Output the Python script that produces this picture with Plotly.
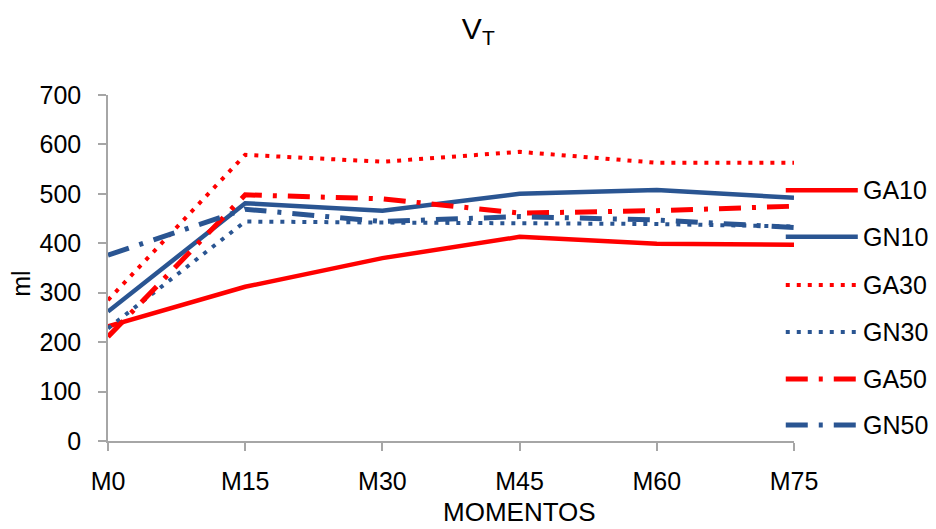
import plotly.graph_objects as go

# Tidal volume (ml) per group across measurement moments
moments = ["M0", "M15", "M30", "M45", "M60", "M75"]
ga10 = [232, 312, 370, 413, 399, 397]
gn10 = [262, 481, 466, 500, 508, 492]
ga30 = [285, 579, 565, 585, 563, 563]
gn30 = [228, 444, 442, 440, 439, 434]
ga50 = [211, 498, 490, 461, 466, 475]
gn50 = [376, 469, 444, 454, 447, 432]

series_names = ["GA10", "GN10", "GA30", "GN30", "GA50", "GN50"]
series_values = [ga10, gn10, ga30, gn30, ga50, gn50]
y_ticks = [0, 100, 200, 300, 400, 500, 600, 700]

RED = "#FF0000"
BLUE = "#2A5592"
FONT = "Liberation Sans, Arial, sans-serif"

styles = [
    dict(color=RED, width=4.5, dash="solid"),
    dict(color=BLUE, width=4.5, dash="solid"),
    dict(color=RED, width=4, dash="4px,7px"),
    dict(color=BLUE, width=4, dash="4px,7px"),
    dict(color=RED, width=5, dash="22px,11px,4px,11px"),
    dict(color=BLUE, width=5, dash="22px,11px,4px,11px"),
]

xs = list(range(len(moments)))

fig = go.Figure()
for name, vals, st in zip(series_names, series_values, styles):
    fig.add_trace(go.Scatter(x=xs, y=vals, name=name, mode="lines",
                             line=st, showlegend=False, hoverinfo="x+y+name"))

# Legend drawn as line samples with labels to the right of the plot
legend_y = [0.725, 0.590, 0.451, 0.315, 0.179, 0.046]
for name, st, ly in zip(series_names, styles, legend_y):
    fig.add_shape(type="line", xref="paper", yref="paper",
                  x0=0.988, x1=1.093, y0=ly, y1=ly, line=st)
    fig.add_annotation(xref="paper", yref="paper", x=1.097, y=ly,
                       text=name, showarrow=False, xanchor="left",
                       yanchor="middle", font=dict(size=25, family=FONT, color="#000"))

# Axis titles
fig.add_annotation(xref="paper", yref="paper", x=0.6, y=-0.206,
                   text="MOMENTOS", showarrow=False, xanchor="center", yanchor="middle",
                   font=dict(size=26, family=FONT, color="#000"))
fig.add_annotation(xref="paper", yref="paper", x=-0.128, y=0.455,
                   text="ml", showarrow=False, textangle=-90,
                   xanchor="center", yanchor="middle",
                   font=dict(size=25, family=FONT, color="#000"))

axis_color = "#A6A6A6"
fig.update_layout(
    width=936, height=529,
    margin=dict(l=108, r=142, t=95, b=88),
    paper_bgcolor="white", plot_bgcolor="white",
    font=dict(family=FONT, size=25, color="#000"),
    title=dict(text="V<sub>T</sub>", x=0.511, xanchor="center",
               y=0.947, yanchor="middle", font=dict(size=30, family=FONT, color="#000")),
    xaxis=dict(range=[0, 5], tickmode="array", tickvals=xs, ticktext=moments,
               showline=True, linecolor=axis_color, linewidth=1.5,
               ticks="outside", ticklen=8, tickcolor=axis_color, tickwidth=1.5,
               showgrid=False, zeroline=False, tickfont=dict(size=25),
               ticklabelstandoff=9),
    yaxis=dict(range=[0, 700], tickmode="array", tickvals=y_ticks,
               showline=True, linecolor=axis_color, linewidth=1.5,
               ticks="outside", ticklen=8, tickcolor=axis_color, tickwidth=1.5,
               showgrid=False, zeroline=False, tickfont=dict(size=25),
               ticklabelstandoff=12),
    showlegend=False,
)

fig.write_html("out.html")
